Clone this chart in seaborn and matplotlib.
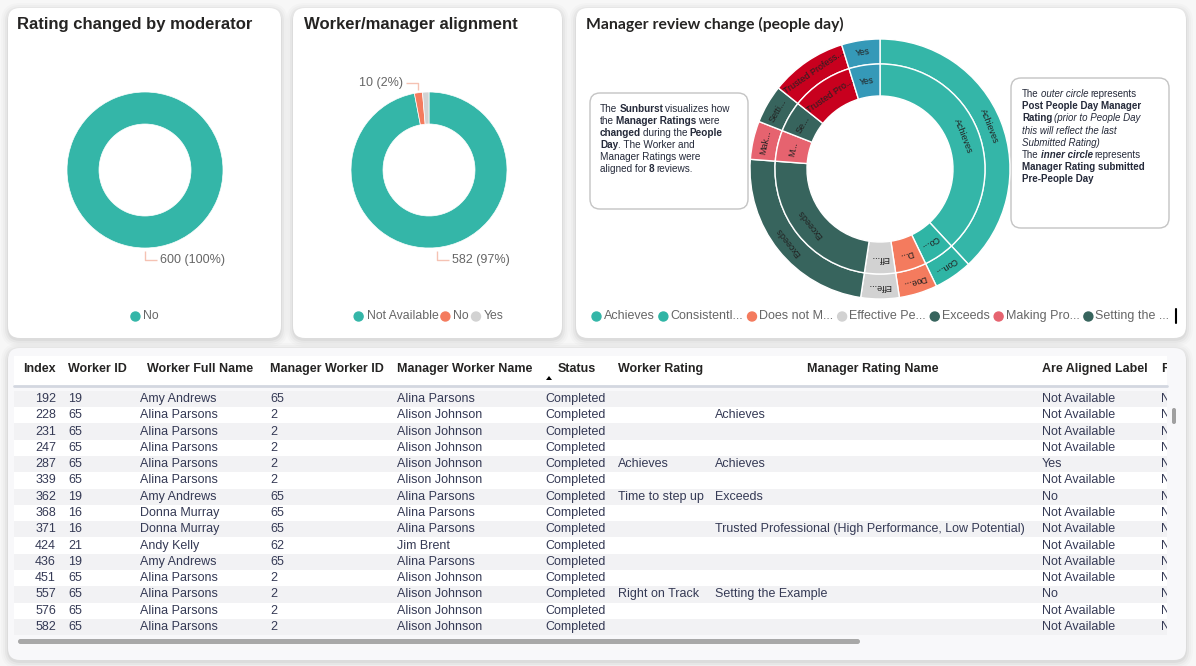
import numpy as np
import pandas as pd
import matplotlib.pyplot as plt
import seaborn as sns
from matplotlib.patches import FancyBboxPatch, Rectangle, Circle, Polygon
from matplotlib.transforms import Bbox

sns.set_theme(style="white")
plt.rcParams['font.family'] = ['Liberation Sans', 'DejaVu Sans']

# ---- data ----
moderator_labels = ["No"]
moderator_counts = [600]

alignment_labels = ["Not Available", "No", "Yes"]
alignment_counts = [582, 10, 8]

rating_names = ["Achieves", "Consistently Exceeds", "Does not Meet", "Effective Performer",
                "Exceeds", "Making Progress", "Setting the Example", "Trusted Professional", "Yes"]
outer_counts = [8, 1, 1, 1, 5, 1, 1, 2, 1]   # post people day
inner_counts = [8, 1, 1, 1, 5, 1, 1, 2, 1]   # pre people day
outer_labels = ["Achieves", "Con...", "Doe...", "Effe...", "Exceeds", "Mak...", "Setti...",
                "Trusted Profess...", "Yes"]
inner_labels = ["Achieves", "Co...", "D...", "Eff...", "Exceeds", "M...", "Se...",
                "Trusted Pro...", "Yes"]
legend_labels = ["Achieves", "Consistentl...", "Does not M...", "Effective Pe...", "Exceeds",
                 "Making Pro...", "Setting the ..."]

col_names = ["Index", "Worker ID", "Worker Full Name", "Manager Worker ID", "Manager Worker Name",
             "Status", "Worker Rating", "Manager Rating Name", "Are Aligned Label", "R"]
index_vals = [192, 228, 231, 247, 287, 339, 362, 368, 371, 424, 436, 451, 557, 576, 582]
worker_ids = [19, 65, 65, 65, 65, 65, 19, 16, 16, 21, 19, 65, 65, 65, 65]
worker_names = ["Amy Andrews", "Alina Parsons", "Alina Parsons", "Alina Parsons", "Alina Parsons",
                "Alina Parsons", "Amy Andrews", "Donna Murray", "Donna Murray", "Andy Kelly",
                "Amy Andrews", "Alina Parsons", "Alina Parsons", "Alina Parsons", "Alina Parsons"]
manager_ids = [65, 2, 2, 2, 2, 2, 65, 65, 65, 62, 65, 2, 2, 2, 2]
manager_names = ["Alina Parsons", "Alison Johnson", "Alison Johnson", "Alison Johnson",
                 "Alison Johnson", "Alison Johnson", "Alina Parsons", "Alina Parsons",
                 "Alina Parsons", "Jim Brent", "Alina Parsons", "Alison Johnson",
                 "Alison Johnson", "Alison Johnson", "Alison Johnson"]
status = ["Completed"] * 15
worker_rating = ["", "", "", "", "Achieves", "", "Time to step up", "", "", "", "", "",
                 "Right on Track", "", ""]
manager_rating = ["", "Achieves", "", "", "Achieves", "", "Exceeds", "",
                  "Trusted Professional (High Performance, Low Potential)", "", "", "",
                  "Setting the Example", "", ""]
aligned = ["Not Available", "Not Available", "Not Available", "Not Available", "Yes",
           "Not Available", "No", "Not Available", "Not Available", "Not Available",
           "Not Available", "Not Available", "No", "Not Available", "Not Available"]
rating_changed = ["No"] * 15

df = pd.DataFrame(dict(zip(col_names, [index_vals, worker_ids, worker_names, manager_ids,
                                       manager_names, status, worker_rating, manager_rating,
                                       aligned, rating_changed])))

# ---- colours ----
teal = "#34b6a8"
pal_align = sns.color_palette([teal, "#f47b5e", "#d2d2d2"])
pal_rating = sns.color_palette([teal, "#2fb5a5", "#f47b5e", "#d2d2d2", "#37645d",
                                "#e6636f", "#37645d", "#c8001e", "#3599b8"])
grey_txt = "#666666"

W, H = 1196, 666
fig = plt.figure(figsize=(W / 100, H / 100), dpi=100, facecolor="#f7f7f7")

bg = fig.add_axes([0, 0, 1, 1], zorder=0)
bg.set_xlim(0, W)
bg.set_ylim(H, 0)
bg.axis('off')
fg = fig.add_axes([0, 0, 1, 1], zorder=5)
fg.set_xlim(0, W)
fg.set_ylim(H, 0)
fg.axis('off')
renderer = fig.canvas.get_renderer()


def card(x0, y0, x1, y1, fc="white"):
    for d, a in [(7, 0.015), (5, 0.02), (3, 0.03), (1, 0.04)]:
        bg.add_patch(FancyBboxPatch((x0 - d, y0 - d + 2), x1 - x0 + 2 * d, y1 - y0 + 2 * d,
                                    boxstyle=f"round,pad=0,rounding_size={12 + d}",
                                    fc="black", ec="none", alpha=a))
    bg.add_patch(FancyBboxPatch((x0, y0), x1 - x0, y1 - y0,
                                boxstyle="round,pad=0,rounding_size=12", fc=fc, ec="none"))


def pie_axes(cx, cy, r):
    return fig.add_axes([(cx - r) / W, 1 - (cy + r) / H, 2 * r / W, 2 * r / H], zorder=2)


def text_width(t):
    return t.get_window_extent(renderer).width


def legend_row(x, y, labels, colors, size, off, gap, centre=False):
    items = []
    cur = x
    for lab, col in zip(labels, colors):
        t = fg.text(cur + 4.5 + off, y, lab, size=size, color=grey_txt, va="center", ha="left")
        c = Circle((cur + 4.5, y + 0.5), 4.5, color=col, transform=fg.transData)
        fg.add_patch(c)
        items.append((t, c))
        cur = cur + 4.5 + off + text_width(t) + gap
    if centre:
        shift = x - (cur - gap + x) / 2
        for t, c in items:
            t.set_x(t.get_position()[0] + shift)
            c.center = (c.center[0] + shift, c.center[1])


def leader_label(cx, cy, ro, frac_mid, text):
    th = 2 * np.pi * frac_mid
    sx, sy = cx + (ro + 3) * np.sin(th), cy - (ro + 3) * np.cos(th)
    ey = cy + ro + 12 if np.cos(th) < 0 else cy - ro - 9
    d = 1 if np.sin(th) > -1e-9 else -1
    ex = sx + 12 * d
    fg.plot([sx, sx, ex], [sy, ey, ey], color="#f5c2b3", lw=1, solid_capstyle="butt")
    fg.text(ex + 3 * d, ey, text, size=9, color=grey_txt, va="center",
            ha="left" if d > 0 else "right")


def rich_lines(x, y, lines, size, dy, color="#252a3a"):
    space = 0.2 * size
    for i, pieces in enumerate(lines):
        prev = None
        for txt, w, st in pieces:
            lead = space if txt.startswith(" ") else 0
            txt = txt.lstrip(" ")
            if prev is None:
                prev = fg.text(x, y + i * dy, txt, size=size, weight=w, style=st,
                               color=color, va="bottom", ha="left")
            else:
                prev = fg.annotate(txt, xy=(1, 0), xycoords=prev, xytext=(lead, 0),
                                   textcoords="offset points", size=size, weight=w,
                                   style=st, color=color, va="bottom", ha="left")


# ---- cards ----
card(8, 8, 281, 338)
card(293, 8, 562, 338)
card(576, 8, 1186, 338)
card(8, 348, 1186, 660, fc="#f8f8fa")

fg.text(17, 24, "Rating changed by moderator", size=12, weight="bold", color="#252423", va="center")
fg.text(304, 24, "Worker/manager alignment", size=12, weight="bold", color="#252423", va="center")
fg.text(586, 24, "Manager review change (people day)", size=11.3, weight="bold", color="#252423",
        va="center", family=["Lato", "DejaVu Sans"])

# ---- donut 1 ----
R = 80
cx1, cy1, ro, ri = 145, 170, 78, 46
ax1 = pie_axes(cx1, cy1, R)
ax1.pie(moderator_counts, radius=ro, startangle=90, counterclock=False,
        colors=[teal], wedgeprops=dict(width=ro - ri, edgecolor="white", linewidth=0.5))
ax1.set_xlim(-R, R)
ax1.set_ylim(-R, R)
tot = sum(moderator_counts)
leader_label(cx1, cy1, ro, moderator_counts[0] / 2 / tot,
             f"{moderator_counts[0]} ({moderator_counts[0] / tot:.0%})")
legend_row(cx1, 316, moderator_labels, [teal], 8.8, 8, 2.5, centre=True)

# ---- donut 2 ----
cx2, cy2 = 429, 170
ax2 = pie_axes(cx2, cy2, R)
ax2.pie(alignment_counts, radius=ro, startangle=90, counterclock=False,
        colors=pal_align, wedgeprops=dict(width=ro - ri, edgecolor="white", linewidth=0.5))
ax2.set_xlim(-R, R)
ax2.set_ylim(-R, R)
tot = sum(alignment_counts)
cum = np.cumsum([0] + alignment_counts)
for k in [0, 1]:
    mid = (cum[k] + cum[k + 1]) / 2 / tot
    leader_label(cx2, cy2, ro, mid, f"{alignment_counts[k]} ({alignment_counts[k] / tot:.0%})")
legend_row(cx2, 316, alignment_labels, pal_align, 8.8, 8, 2.5, centre=True)

# ---- sunburst ----
scx, scy = 880, 169
r_out, r_mid, r_in = 130, 105, 73
RS = 134
ax3 = pie_axes(scx, scy, RS)
ax3.pie(outer_counts, radius=r_out, startangle=90, counterclock=False, colors=pal_rating,
        wedgeprops=dict(width=r_out - r_mid, edgecolor="white", linewidth=1))
ax3.pie(inner_counts, radius=r_mid, startangle=90, counterclock=False, colors=pal_rating,
        wedgeprops=dict(width=r_mid - r_in, edgecolor="white", linewidth=1))
ax3.set_xlim(-RS, RS)
ax3.set_ylim(-RS, RS)
for counts, labels, rr in [(outer_counts, outer_labels, (r_out + r_mid) / 2),
                           (inner_counts, inner_labels, (r_mid + r_in) / 2)]:
    c = np.cumsum([0] + counts)
    for k, lab in enumerate(labels):
        th = (c[k] + c[k + 1]) / 2 / c[-1] * 360
        ax3.text(rr * np.sin(np.radians(th)), rr * np.cos(np.radians(th)), lab,
                 rotation=-th, rotation_mode="anchor", ha="center", va="center",
                 size=6.5, color="#222222")

legend_row(592, 316, legend_labels, pal_rating[:7], 9, 7, 4.5)
fg.plot([1176, 1176], [309, 323], color="black", lw=1.5)

# ---- annotation boxes ----
bg.add_patch(FancyBboxPatch((590, 93), 158, 116, boxstyle="round,pad=0,rounding_size=10",
                            fc="white", ec="#c4c4c4", lw=1, zorder=3))
bg.add_patch(FancyBboxPatch((1011, 78), 158, 150, boxstyle="round,pad=0,rounding_size=10",
                            fc="white", ec="#c4c4c4", lw=1, zorder=3))
n, b, i_, bi = ("normal", "normal"), ("bold", "normal"), ("normal", "italic"), ("bold", "italic")
left_box = [
    [("The", *n), (" Sunburst", *b), (" visualizes how", *n)],
    [("the", *n), (" Manager Ratings", *b), (" were", *n)],
    [("changed", *b), (" during the", *n), (" People", *b)],
    [("Day", *b), (". The Worker and", *n)],
    [("Manager Ratings were", *n)],
    [("aligned for", *n), (" 8", *b), (" reviews.", *n)],
]
rich_lines(600, 114, left_box, 7.2, 12)
right_box = [
    [("The", *n), (" outer circle", *i_), (" represents", *n)],
    [("Post People Day Manager", *b)],
    [("Rating", *b), (" (prior to People Day", *i_)],
    [("this will reflect the last", *i_)],
    [("Submitted Rating)", *i_)],
    [("The", *n), (" inner circle", *bi), (" represents", *n)],
    [("Manager Rating submitted", *b)],
    [("Pre-People Day", *b)],
]
rich_lines(1022, 99, right_box, 7, 12.2)

# ---- table ----
x_left, x_right = 14, 1167
header_y = 369
row_y0, row_h = 399, 16.29
clip = Bbox.from_extents(x_left, H - 650, x_right, H - 350)   # display pixels

bg.add_patch(Rectangle((x_left, 356), x_right - x_left, 30, fc="white", ec="none"))
bg.plot([x_left, x_right], [386, 386], color="#d3d7e0", lw=2)
for r in range(len(df)):
    y = row_y0 + r * row_h
    bg.add_patch(Rectangle((x_left, y - row_h / 2), x_right - x_left, row_h,
                           fc="#f2f2f4" if r % 2 == 0 else "white", ec="none"))

val_x = [56, 68, 140, 270, 397, 545, 618, 715, 1042, 1161]
val_ha = ["right"] + ["left"] * 9
hdr_x = [56, 68, 200, 270, 397, 558, 618, 873, 1042, 1161]
hdr_ha = ["right", "left", "center", "left", "left", "left", "left", "center", "left", "left"]

for j, col in enumerate(df.columns):
    t = fg.text(hdr_x[j], header_y, col, size=9, weight="bold", color="#252423",
                ha=hdr_ha[j], va="center")
    t.set_clip_box(clip)
    t.set_clip_on(True)
    for r, v in enumerate(df[col]):
        t = fg.text(val_x[j], row_y0 + r * row_h, str(v), size=9, color="#353a55",
                    ha=val_ha[j], va="center")
        t.set_clip_box(clip)
        t.set_clip_on(True)

fg.add_patch(Polygon([[546, 380], [552, 380], [549, 376]], closed=True, fc="black", ec="none"))
fg.add_patch(FancyBboxPatch((18, 639), 842, 5, boxstyle="round,pad=0,rounding_size=2.5",
                            fc="#a8a8a8", ec="none"))
fg.add_patch(FancyBboxPatch((1172, 408), 4, 16, boxstyle="round,pad=0,rounding_size=2",
                            fc="#a0a0a0", ec="none"))

fig.savefig("out.png", dpi=100, facecolor=fig.get_facecolor())
